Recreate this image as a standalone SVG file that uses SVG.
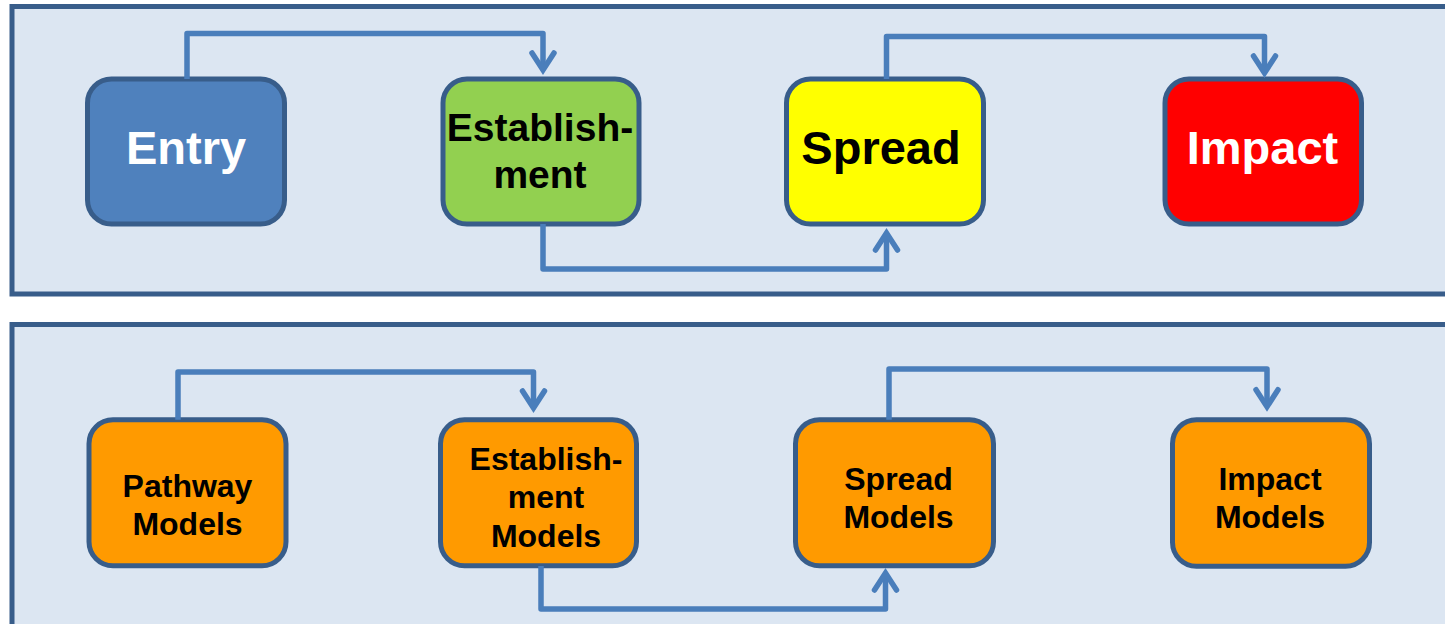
<svg xmlns="http://www.w3.org/2000/svg" width="1445" height="624" viewBox="0 0 1445 624">
  <defs>
    <style>
      .panel { fill: #DCE6F2; stroke: #385D8A; stroke-width: 5; }
      .box { stroke: #385D8A; stroke-width: 5; }
      .lbl { font-family: "Liberation Sans", Arial, sans-serif; font-weight: bold; text-anchor: middle; }
      .big { font-size: 47px; }
      .mid { font-size: 39px; }
      .small { font-size: 32px; fill: #000; }
      .link { fill: none; stroke: #4A7EBB; stroke-width: 5.5; stroke-linejoin: round; marker-end: url(#chevron); }
    </style>
    <marker id="chevron" markerUnits="userSpaceOnUse" viewBox="-30 -20 40 40" markerWidth="40" markerHeight="40" refX="0" refY="0" orient="auto" overflow="visible">
      <path d="M -17,-11 L 0,0 L -17,11" fill="none" stroke="#4A7EBB" stroke-width="5.5" stroke-linecap="round" stroke-linejoin="miter"/>
    </marker>
  </defs>

  <!-- panels -->
  <rect class="panel" x="12" y="6.5" width="1450" height="287.5"/>
  <rect class="panel" x="12" y="324.5" width="1450" height="320"/>

  <!-- upper row: stages -->
  <g id="entry">
    <rect class="box" x="87.5" y="79" width="197" height="145" rx="24" fill="#4F81BD"/>
    <text class="lbl big" x="186" y="163.5" fill="#FFFFFF">Entry</text>
  </g>
  <g id="establishment">
    <rect class="box" x="443" y="79" width="196" height="145" rx="24" fill="#92D050"/>
    <text class="lbl mid" x="540" y="140.7" fill="#000">Establish-</text>
    <text class="lbl mid" x="540" y="188.3" fill="#000">ment</text>
  </g>
  <g id="spread">
    <rect class="box" x="786.5" y="79" width="197" height="145" rx="24" fill="#FFFF00"/>
    <text class="lbl big" x="881" y="164" fill="#000">Spread</text>
  </g>
  <g id="impact">
    <rect class="box" x="1165" y="79" width="196.5" height="145" rx="24" fill="#FF0000"/>
    <text class="lbl big" x="1262.5" y="164" fill="#FFFFFF">Impact</text>
  </g>

  <!-- lower row: models -->
  <g id="pathway-models">
    <rect class="box" x="89" y="419.7" width="197" height="146" rx="24" fill="#FF9A00"/>
    <text class="lbl small" x="187.5" y="496.7">Pathway</text>
    <text class="lbl small" x="187.5" y="535">Models</text>
  </g>
  <g id="establishment-models">
    <rect class="box" x="440.5" y="419.7" width="196" height="146" rx="24" fill="#FF9A00"/>
    <text class="lbl small" x="546" y="470">Establish-</text>
    <text class="lbl small" x="546" y="508.3">ment</text>
    <text class="lbl small" x="546" y="546.7">Models</text>
  </g>
  <g id="spread-models">
    <rect class="box" x="795.5" y="419.7" width="198" height="146" rx="24" fill="#FF9A00"/>
    <text class="lbl small" x="898.5" y="490">Spread</text>
    <text class="lbl small" x="898.5" y="528.3">Models</text>
  </g>
  <g id="impact-models">
    <rect class="box" x="1172.5" y="419.7" width="197" height="146.5" rx="24" fill="#FF9A00"/>
    <text class="lbl small" x="1270" y="490">Impact</text>
    <text class="lbl small" x="1270" y="528.3">Models</text>
  </g>

  <!-- connectors -->
  <g id="connectors">
    <path class="link" d="M 187,79 V 33.5 H 543 V 70"/>
    <path class="link" d="M 543,224 V 269 H 886.5 V 233"/>
    <path class="link" d="M 886.5,79 V 36.5 H 1264.5 V 73"/>
    <path class="link" d="M 178,419.7 V 372 H 533.5 V 408"/>
    <path class="link" d="M 541,566 V 609 H 885.5 V 573"/>
    <path class="link" d="M 889,419.7 V 369 H 1267 V 406.7"/>
  </g>
</svg>
